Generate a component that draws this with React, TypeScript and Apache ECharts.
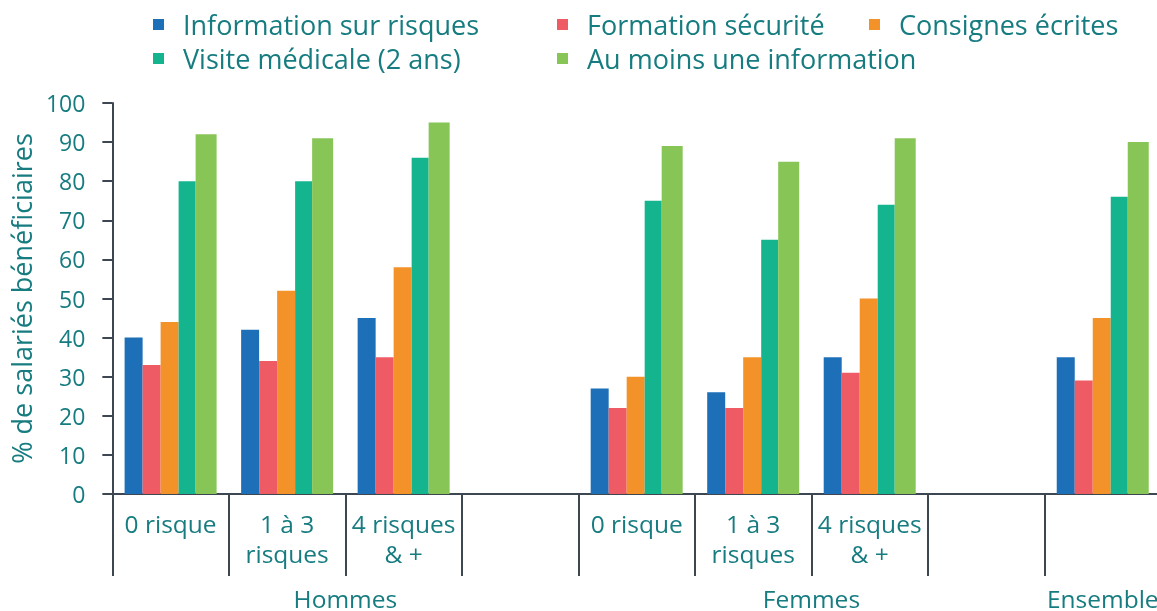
import React, { useEffect, useRef } from "react";
import * as echarts from "echarts";

const categories = ["0 risque", "1 à 3\nrisques", "4 risques\n& +", "", "0 risque", "1 à 3\nrisques", "4 risques\n& +", "", ""];
const groupLabels = ["Hommes", "Femmes", "Ensemble"];
const groupLabelSlots = [4, 12, 17];

const seriesNames = [
  "Information sur risques",
  "Formation sécurité",
  "Consignes écrites",
  "Visite médicale (2 ans)",
  "Au moins une information",
];
const infoRisques = [40, 42, 45, null, 27, 26, 35, null, 35];
const formationSecurite = [33, 34, 35, null, 22, 22, 31, null, 29];
const consignesEcrites = [44, 52, 58, null, 30, 35, 50, null, 45];
const visiteMedicale = [80, 80, 86, null, 75, 65, 74, null, 76];
const auMoinsUne = [92, 91, 95, null, 89, 85, 91, null, 90];

const yTicks = [0, 10, 20, 30, 40, 50, 60, 70, 80, 90, 100];

const colors = ["#1d6fb8", "#ef5b64", "#f29229", "#13b48e", "#88c557"];
const barWidths = [18, 18, 18, 17, 21];
const TEXT = "#167c80";
const AXIS = "#3d4752";
const FONT = "'Open Sans', 'Noto Sans', sans-serif";

export default function App() {
  const ref = useRef<HTMLDivElement>(null);
  useEffect(() => {
    document.body.style.margin = "0";
    document.body.style.overflow = "hidden";
    const chart = echarts.init(ref.current!, undefined, { renderer: "svg" });
    const values = [infoRisques, formationSecurite, consignesEcrites, visiteMedicale, auMoinsUne];
    const groupAxis: string[] = Array(19).fill("");
    groupLabelSlots.forEach((s, i) => (groupAxis[s] = groupLabels[i]));

    const legendPos = [
      { left: 148, top: 6 },
      { left: 552, top: 6 },
      { left: 864, top: 6 },
      { left: 148, top: 40 },
      { left: 552, top: 40 },
    ];

    chart.setOption({
      animation: false,
      textStyle: { fontFamily: FONT },
      legend: seriesNames.map((n, i) => ({
        data: [n],
        left: legendPos[i].left,
        top: legendPos[i].top,
        icon: "rect",
        itemWidth: 11,
        itemHeight: 11,
        selectedMode: false,
        textStyle: { color: TEXT, fontSize: 27, fontFamily: FONT, padding: [0, 0, 0, 14] },
      })),
      grid: { left: 110, top: 103, bottom: 114, right: 0, containLabel: false },
      xAxis: [
        {
          type: "category",
          data: categories,
          axisLine: { show: true, lineStyle: { color: AXIS, width: 2 } },
          axisTick: { show: true, length: 82, interval: 0, lineStyle: { color: AXIS, width: 2 } },
          axisLabel: { interval: 0, color: TEXT, fontSize: 24.5, lineHeight: 30, margin: 14, fontFamily: FONT },
        },
        {
          type: "category",
          data: groupAxis,
          position: "bottom",
          offset: 90,
          boundaryGap: false,
          axisLine: { show: false },
          axisTick: { show: false },
          axisLabel: { interval: 0, color: TEXT, fontSize: 24.5, margin: 2, fontFamily: FONT, hideOverlap: false },
        },
      ],
      yAxis: {
        type: "value",
        min: 0,
        max: 100,
        interval: 10,
        name: "% de salariés bénéficiaires",
        nameLocation: "middle",
        nameGap: 74,
        nameTextStyle: { color: TEXT, fontSize: 27, fontFamily: FONT },
        axisLine: { show: true, lineStyle: { color: AXIS, width: 2 } },
        axisTick: { show: true, length: 10, lineStyle: { color: AXIS, width: 2 } },
        splitLine: { show: false },
        axisLabel: {
          color: TEXT,
          fontSize: 23,
          margin: 27,
          fontFamily: FONT,
          formatter: (v: number) => (yTicks.includes(v) ? String(v) : ""),
        },
      },
      series: seriesNames.map((n, i) => ({
        name: n,
        type: "bar",
        data: values[i],
        barWidth: barWidths[i],
        barGap: "0%",
        itemStyle: { color: colors[i] },
      })),
    });
    return () => chart.dispose();
  }, []);
  return (
    <div style={{ position: "fixed", left: 0, top: 0, width: 1157, height: 611, overflow: "hidden" }}>
      <div ref={ref} style={{ position: "absolute", left: 0, top: 0, width: 1164, height: 611 }} />
    </div>
  );
}
